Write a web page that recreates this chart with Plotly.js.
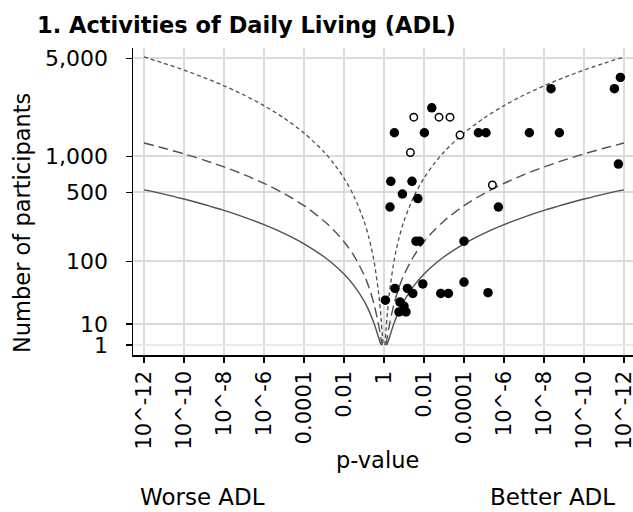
<!DOCTYPE html>
<html>
<head>
<meta charset="utf-8">
<script src="https://cdn.plot.ly/plotly-3.0.1.min.js"></script>
<style>html,body{margin:0;padding:0;background:#fff;}#chart{width:633px;height:512px;}</style>
</head>
<body>
<div id="chart"></div>
<script>
// ---- data (x = signed -log10(p): negative = worse ADL, positive = better ADL) ----
const xTickVals = [-12, -10, -8, -6, -4, -2, 0, 2, 4, 6, 8, 10, 12];
const xTickText = ["10^-12", "10^-10", "10^-8", "10^-6", "0.0001", "0.01", "1", "0.01", "0.0001", "10^-6", "10^-8", "10^-10", "10^-12"];
const yTickVals = [1, 10, 100, 500, 1000, 5000];
const yTickText = ["1", "10", "100", "500", "1,000", "5,000"];

const filledX = [2.39, 0.52, 2.02, 4.72, 5.10, 7.27, 8.77, 8.35, 11.52, 11.82, 11.72,
                 0.34, 1.40, 0.92, 1.69, 0.30, 5.72, 1.60, 1.77, 4.00,
                 0.55, 1.17, 1.94, 1.44, 2.84, 3.22, 4.00, 5.20,
                 0.07, 0.80, 0.75, 1.10, 1.00];
const filledN = [2310, 1520, 1520, 1520, 1520, 1520, 1520, 3140, 3140, 3740, 867,
                 623, 623, 483, 440, 368, 368, 168, 168, 168,
                 44, 44, 51, 37, 37, 37, 54, 38,
                 29, 27, 18, 18, 23];
const openX = [1.49, 2.75, 3.30, 3.80, 1.32, 5.42];
const openN = [1980, 1980, 1980, 1460, 1070, 579];

// contour lines (right half; left half is its mirror)
const shortDashX = [0.036, 0.05, 0.1, 0.15, 0.25, 0.5, 0.75, 1, 1.5, 2, 2.5, 3, 4, 5, 6, 7, 8, 9, 10, 11, 12];
const shortDashN = [1, 1.87, 6.81, 14.0, 33.5, 100.4, 181.4, 270.6, 461.8, 663.6, 869, 1083, 1514, 1951, 2393, 2838, 3284, 3732, 4182, 4633, 5089];
const longDashX = [0.075, 0.1, 0.15, 0.25, 0.5, 0.75, 1, 1.5, 2, 2.5, 3, 4, 5, 6, 7, 8, 9, 10, 11, 12];
const longDashN = [1, 1.70, 3.51, 8.38, 25.1, 45.4, 67.7, 115.5, 165.9, 217.3, 270.8, 378.5, 487.7, 598.3, 709.4, 821.1, 933, 1045.6, 1158, 1272];
const solidX = [0.121, 0.15, 0.25, 0.5, 0.75, 1, 1.5, 2, 2.5, 3, 4, 5, 6, 7, 8, 9, 10, 11, 12];
const solidN = [1, 1.46, 3.49, 10.45, 18.9, 28.2, 48.1, 69.1, 90.4, 112.7, 157.5, 203, 249, 295.3, 341.8, 388.3, 435.2, 482.2, 525];

// ---- y scale: axis is linear in (log10 n)^2 ----
const ty = n => Math.pow(Math.log10(n), 2);

function mirrored(xs, ns) {
  const x = [], y = [];
  for (let i = xs.length - 1; i >= 0; i--) { x.push(-xs[i]); y.push(ty(ns[i])); }
  x.push(null); y.push(null);
  for (let i = 0; i < xs.length; i++) { x.push(xs[i]); y.push(ty(ns[i])); }
  return {x, y};
}

const lineColor = '#505050';
const cS = mirrored(shortDashX, shortDashN);
const cL = mirrored(longDashX, longDashN);
const cF = mirrored(solidX, solidN);

const traces = [
  {x: cF.x, y: cF.y, mode: 'lines', line: {color: lineColor, width: 1.4, shape: 'spline', smoothing: 0.8}, hoverinfo: 'skip', connectgaps: false},
  {x: cL.x, y: cL.y, mode: 'lines', line: {color: lineColor, width: 1.4, dash: '10px,5px', shape: 'spline', smoothing: 0.8}, hoverinfo: 'skip', connectgaps: false},
  {x: cS.x, y: cS.y, mode: 'lines', line: {color: lineColor, width: 1.3, dash: '4px,3px', shape: 'spline', smoothing: 0.8}, hoverinfo: 'skip', connectgaps: false},
  {x: filledX, y: filledN.map(ty), mode: 'markers', marker: {size: 9.5, color: '#000', line: {width: 0}}},
  {x: openX, y: openN.map(ty), mode: 'markers', marker: {size: 7.5, color: '#fff', line: {width: 1.5, color: '#000'}}}
];

const font = 'DejaVu Sans, Liberation Sans, Arial, sans-serif';
const layout = {
  width: 633, height: 512,
  margin: {l: 133, r: 0, t: 48, b: 157},
  paper_bgcolor: '#fff', plot_bgcolor: '#fff',
  showlegend: false,
  font: {family: font, color: '#000', size: 22.5},
  title: {text: '1. Activities of Daily Living (ADL)', font: {family: font, size: 22.5, weight: 'bold', color: '#000'},
          xref: 'container', x: 37 / 633, xanchor: 'left', yref: 'container', y: 1 - 25 / 512, yanchor: 'middle'},
  xaxis: {
    range: [-12.55, 12.45], tickmode: 'array', tickvals: xTickVals, ticktext: xTickText,
    tickangle: -90, tickfont: {size: 21, family: font, color: '#000'}, ticklabeloverflow: 'allow',
    showgrid: true, gridcolor: '#dcdcdc', gridwidth: 2, zeroline: false,
    showline: true, linecolor: '#000', linewidth: 1.5, ticks: 'outside', ticklen: 6, tickcolor: '#000', tickwidth: 1.3
  },
  yaxis: {
    range: [-0.476, 14.167], tickmode: 'array', tickvals: yTickVals.map(ty), ticktext: yTickText,
    tickfont: {size: 22, family: font, color: '#000'}, ticklabelstandoff: 13,
    showgrid: true, gridcolor: '#dcdcdc', gridwidth: 2,
    zeroline: true, zerolinecolor: '#e3eaee', zerolinewidth: 2,
    showline: true, linecolor: '#000', linewidth: 1.5, ticks: 'outside', ticklen: 6, tickcolor: '#000', tickwidth: 1.3
  },
  annotations: [
    {text: 'p-value', xref: 'paper', yref: 'paper', x: (377 - 133) / 500, y: (355 - 460) / 307, xanchor: 'center', yanchor: 'middle', showarrow: false, font: {size: 22.5}},
    {text: 'Worse ADL', xref: 'paper', yref: 'paper', x: (202 - 133) / 500, y: (355 - 497) / 307, xanchor: 'center', yanchor: 'middle', showarrow: false, font: {size: 23}},
    {text: 'Better ADL', xref: 'paper', yref: 'paper', x: (552 - 133) / 500, y: (355 - 497) / 307, xanchor: 'center', yanchor: 'middle', showarrow: false, font: {size: 23}},
    {text: 'Number of participants', xref: 'paper', yref: 'paper', x: (22 - 133) / 500, y: (355 - 223) / 307, xanchor: 'center', yanchor: 'middle', textangle: -90, showarrow: false, font: {size: 22.5}}
  ]
};

Plotly.newPlot('chart', traces, layout, {staticPlot: true, displayModeBar: false});
</script>
</body>
</html>
